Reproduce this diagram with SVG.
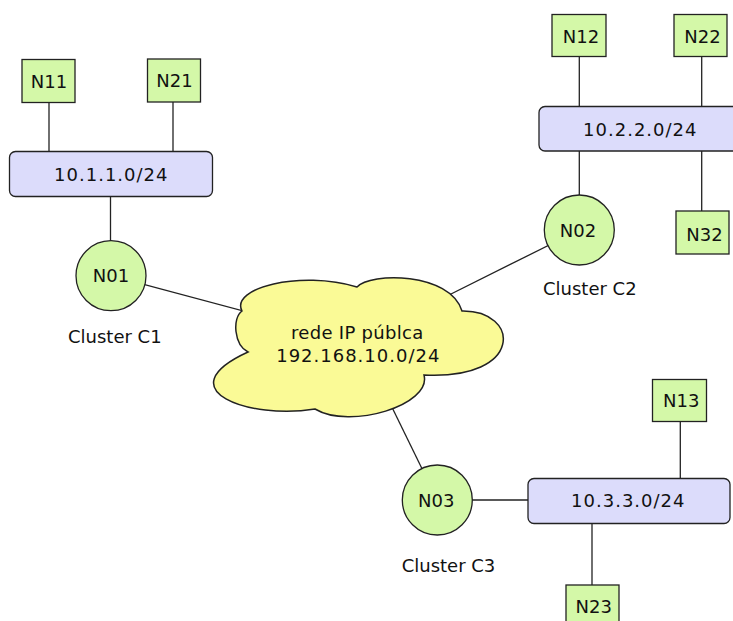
<svg xmlns="http://www.w3.org/2000/svg" width="733" height="621" viewBox="0 0 733 621">
  <style>
    text { font-family: "DejaVu Sans", "Liberation Sans", sans-serif; font-size: 18px; fill: #111; }
    .mid { text-anchor: middle; }
    .num { letter-spacing: 1px; }
    .host { fill: #d4f8a8; stroke: #222; stroke-width: 1.3; }
    .gw { fill: #d4f8a8; stroke: #222; stroke-width: 1.3; }
    .net { fill: #dcdcfb; stroke: #222; stroke-width: 1.3; }
    .cloud { fill: #fafa96; stroke: #222; stroke-width: 1.5; }
    .link { stroke: #222; stroke-width: 1.3; fill: none; }
  </style>
  <rect width="733" height="621" fill="#ffffff"/>

  <!-- links between hosts, subnets, gateways and the public network -->
  <g id="connectors">
    <line class="link" x1="49" y1="102" x2="49" y2="152"/>
    <line class="link" x1="173" y1="101" x2="173" y2="152"/>
    <line class="link" x1="110.5" y1="196" x2="110.5" y2="241"/>
    <line class="link" x1="111" y1="275.7" x2="262" y2="316"/>
    <line class="link" x1="579.3" y1="56" x2="579.3" y2="107"/>
    <line class="link" x1="701.7" y1="56" x2="701.7" y2="107"/>
    <line class="link" x1="579.3" y1="150" x2="579.3" y2="195"/>
    <line class="link" x1="701.7" y1="150" x2="701.7" y2="211"/>
    <line class="link" x1="579.3" y1="230" x2="440" y2="299.5"/>
    <line class="link" x1="437.3" y1="500" x2="385" y2="393"/>
    <line class="link" x1="472" y1="500" x2="528" y2="500"/>
    <line class="link" x1="680.3" y1="421" x2="680.3" y2="479"/>
    <line class="link" x1="592" y1="523" x2="592" y2="585"/>
  </g>

  <!-- public network cloud -->
  <g id="cloud">
    <path class="cloud" d="M 242,311 C 230,288 300,270 357,287 C 370,272 450,272 462,311 C 520,310 525,380 424,375 C 432,405 350,430 315,409 C 250,420 165,390 248,352 C 234,345 232,318 242,311 Z"/>
    <text class="mid" x="357.3" y="338.5" style="letter-spacing:0.3px">rede IP públca</text>
    <text class="mid num" x="358.3" y="361.7">192.168.10.0/24</text>
  </g>

  <!-- cluster C1 -->
  <g id="N11">
    <rect class="host" x="22" y="59.5" width="53" height="43"/>
    <text class="mid" x="49" y="88.3">N11</text>
  </g>
  <g id="N21">
    <rect class="host" x="147.5" y="59" width="53" height="43"/>
    <text class="mid" x="174.5" y="86.7">N21</text>
  </g>
  <g id="net1">
    <rect class="net" x="9.5" y="151.5" width="203" height="45" rx="6" ry="6"/>
    <text class="mid num" x="111.3" y="181">10.1.1.0/24</text>
  </g>
  <g id="N01">
    <circle class="gw" cx="111" cy="275.7" r="35"/>
    <text class="mid" x="111" y="281.7">N01</text>
  </g>
  <g id="labelC1">
    <text x="68" y="342.5">Cluster C1</text>
  </g>

  <!-- cluster C2 -->
  <g id="N12">
    <rect class="host" x="552" y="14.5" width="54" height="42"/>
    <text class="mid" x="581" y="42.7">N12</text>
  </g>
  <g id="N22">
    <rect class="host" x="674" y="14.5" width="53" height="42"/>
    <text class="mid" x="702.5" y="42.7">N22</text>
  </g>
  <g id="net2">
    <rect class="net" x="539" y="106.5" width="204" height="44.5" rx="6" ry="6"/>
    <text class="mid num" x="640.3" y="136">10.2.2.0/24</text>
  </g>
  <g id="N32">
    <rect class="host" x="676" y="211" width="53" height="43"/>
    <text class="mid" x="704.5" y="240.7">N32</text>
  </g>
  <g id="N02">
    <circle class="gw" cx="579.3" cy="230" r="35"/>
    <text class="mid" x="578" y="237.3">N02</text>
  </g>
  <g id="labelC2">
    <text x="543" y="295">Cluster C2</text>
  </g>

  <!-- cluster C3 -->
  <g id="N13">
    <rect class="host" x="652.5" y="379.5" width="54" height="42"/>
    <text class="mid" x="681.3" y="407.3">N13</text>
  </g>
  <g id="net3">
    <rect class="net" x="528" y="478.5" width="202" height="45" rx="6" ry="6"/>
    <text class="mid num" x="628.3" y="507.3">10.3.3.0/24</text>
  </g>
  <g id="N03">
    <circle class="gw" cx="437.3" cy="500" r="35"/>
    <text class="mid" x="436.3" y="506.7">N03</text>
  </g>
  <g id="N23">
    <rect class="host" x="566" y="585" width="53" height="43"/>
    <text class="mid" x="593.8" y="612.7">N23</text>
  </g>
  <g id="labelC3">
    <text x="401.7" y="571.7">Cluster C3</text>
  </g>
</svg>
